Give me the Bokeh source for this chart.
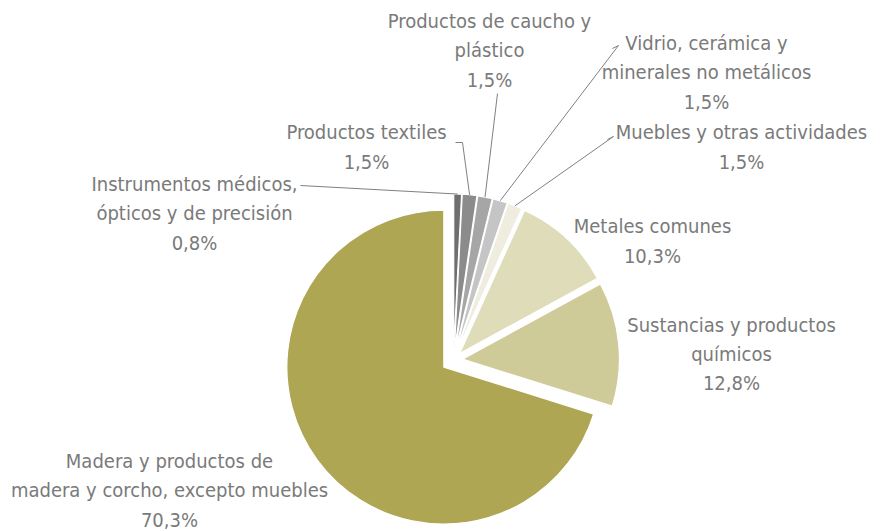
import math
from bokeh.plotting import figure
from bokeh.models import Range1d, ColumnDataSource
from bokeh.core.properties import value
from bokeh.embed import file_html
from bokeh.resources import INLINE

# ---- data ----
categories = [
    "Instrumentos médicos,\nópticos y de precisión",
    "Productos textiles",
    "Productos de caucho y\nplástico",
    "Vidrio, cerámica y\nminerales no metálicos",
    "Muebles y otras actividades",
    "Metales comunes",
    "Sustancias y productos\nquímicos",
    "Madera y productos de\nmadera y corcho, excepto muebles",
]
shares = [0.8, 1.5, 1.5, 1.5, 1.5, 10.3, 12.8, 70.3]
colors = ["#6f6f6f", "#8b8b8b", "#a6a6a6", "#c5c5c5", "#eeeddf",
          "#dfdcba", "#cfcb99", "#afa653"]

# ---- layout (styling constants) ----
W, H = 880, 531
def ix(X):  # image px -> data x
    return X
def iy(Y):  # image px -> data y
    return H - Y

CX, CY = ix(453), iy(359.5)
R = 157
explode = [9, 9, 9, 9, 9, 9, 9, 12]
# label block centres (image px)
label_pos = [(194, 213), (366, 146.5), (489, 50), (706, 72),
             (741, 146.5), (652, 240.5), (731, 353.5), (169, 490)]
# leader start points near labels (image px); None = no leader
leader_from = [[(300, 185)], [(455, 142), (462, 142)], [(497, 93)],
               [(612, 48), (618, 45)], [(607, 139), (613, 136)], None, None, None]

FONT = "DejaVu Sans Condensed"
TXT = "#7a7a7a"

p = figure(width=W, height=H, output_backend="svg", toolbar_location=None,
           x_range=Range1d(0, W), y_range=Range1d(0, H), min_border=0)
p.axis.visible = False
p.grid.visible = False
p.outline_line_color = None
p.background_fill_color = "white"

total = sum(shares)
cum = 0.0
xs, ys, sa, ea, lbl_x, lbl_y, texts = [], [], [], [], [], [], []
lead_xs, lead_ys = [], []
for i, s in enumerate(shares):
    t1 = cum / total * 360.0
    cum += s
    t2 = cum / total * 360.0
    mid = (t1 + t2) / 2.0
    m = math.radians(90 - mid)
    ox, oy = CX + explode[i] * math.cos(m), CY + explode[i] * math.sin(m)
    xs.append(ox); ys.append(oy)
    sa.append(math.radians(90 - t2)); ea.append(math.radians(90 - t1))
    lx, ly = label_pos[i]
    lbl_x.append(ix(lx)); lbl_y.append(iy(ly))
    texts.append(categories[i] + "\n" + f"{s:.1f}".replace(".", ",") + "%")
    if leader_from[i]:
        px = [ix(a) for a, b in leader_from[i]]
        py = [iy(b) for a, b in leader_from[i]]
        ex = CX + (R + explode[i]) * math.cos(m)
        ey = CY + (R + explode[i]) * math.sin(m)
        px.append(ex); py.append(ey)
        lead_xs.append(px); lead_ys.append(py)

src = ColumnDataSource(dict(x=xs, y=ys, sa=sa, ea=ea, c=colors))
p.wedge(x="x", y="y", radius=R, start_angle="sa", end_angle="ea",
        direction="anticlock", fill_color="c", line_color="white",
        line_width=1.2, source=src)

p.multi_line(xs=lead_xs, ys=lead_ys, line_color="#808080", line_width=1)

tsrc = ColumnDataSource(dict(x=lbl_x, y=lbl_y, t=texts))
p.text(x="x", y="y", text="t", source=tsrc, text_align="center",
       text_baseline="middle", text_font=value(FONT), text_font_size="20px",
       text_color=TXT, text_line_height=1.22)

open("out.html", "w").write(file_html(p, INLINE))
